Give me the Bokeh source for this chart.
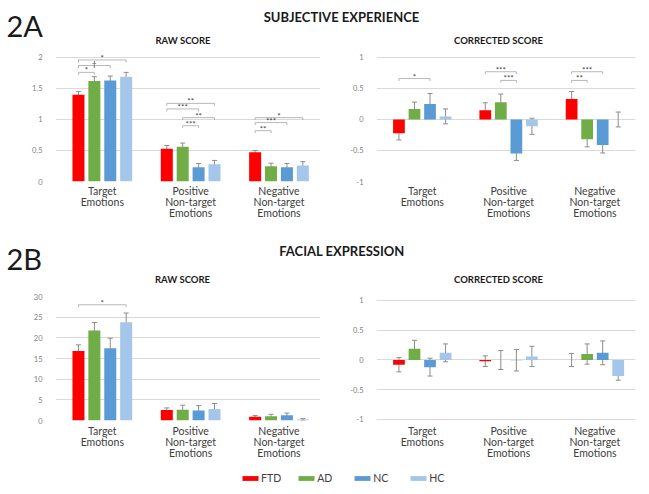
from bokeh.plotting import figure
from bokeh.models import (Range1d, FixedTicker, NumeralTickFormatter, Whisker, TeeHead,
                          ColumnDataSource, Legend, LegendItem)
from bokeh.layouts import column, row
from bokeh.embed import file_html
from bokeh.resources import INLINE
from bokeh.core.properties import value

FONT = "Lato"

# ---------------- data ----------------
groups = ["FTD", "AD", "NC", "HC"]
colors = ["#FF0000", "#70AD47", "#5B9BD5", "#A4C6EA"]
categories = ["Target\nEmotions", "Positive\nNon-target\nEmotions", "Negative\nNon-target\nEmotions"]

# 2A Subjective experience - raw score
subj_raw_mean = {"FTD": [1.40, 0.53, 0.47], "AD": [1.62, 0.56, 0.245],
                 "NC": [1.63, 0.23, 0.23], "HC": [1.69, 0.28, 0.26]}
subj_raw_err = {"FTD": [0.05, 0.05, 0.03], "AD": [0.07, 0.06, 0.05],
                "NC": [0.07, 0.06, 0.06], "HC": [0.07, 0.06, 0.06]}
subj_raw_sig = [(0, "FTD", "HC", 1.96, "*"), (0, "FTD", "NC", 1.87, "\u2020"), (0, "FTD", "AD", 1.76, "*"),
                (1, "FTD", "HC", 1.26, "**"), (1, "FTD", "NC", 1.17, "***"),
                (1, "AD", "HC", 1.03, "**"), (1, "AD", "NC", 0.90, "***"),
                (2, "FTD", "HC", 1.03, "*"), (2, "FTD", "NC", 0.95, "***"), (2, "FTD", "AD", 0.82, "**")]

# 2A Subjective experience - corrected score
subj_corr_mean = {"FTD": [-0.22, 0.15, 0.33], "AD": [0.17, 0.28, -0.32],
                  "NC": [0.25, -0.55, -0.41], "HC": [0.05, -0.11, 0.0]}
subj_corr_err = {"FTD": [0.11, 0.12, 0.12], "AD": [0.11, 0.13, 0.12],
                 "NC": [0.17, 0.11, 0.13], "HC": [0.12, 0.13, 0.12]}
subj_corr_sig = [(0, "FTD", "NC", 0.66, "*"), (1, "FTD", "NC", 0.77, "***"), (1, "AD", "NC", 0.63, "***"),
                 (2, "FTD", "NC", 0.77, "***"), (2, "FTD", "AD", 0.63, "**")]

# 2B Facial expression - raw score
face_raw_mean = {"FTD": [16.8, 2.55, 0.9], "AD": [21.8, 2.6, 1.0],
                 "NC": [17.5, 2.4, 1.3], "HC": [23.8, 2.8, 0.25]}
face_raw_err = {"FTD": [1.5, 0.5, 0.3], "AD": [1.9, 1.1, 0.5],
                "NC": [2.4, 1.2, 0.5], "HC": [2.2, 1.3, 0.2]}
face_raw_sig = [(0, "FTD", "HC", 28.0, "*")]

# 2B Facial expression - corrected score
face_corr_mean = {"FTD": [-0.08, -0.02, 0.0], "AD": [0.19, 0.0, 0.10],
                  "NC": [-0.12, -0.005, 0.12], "HC": [0.12, 0.06, -0.27]}
face_corr_err = {"FTD": [0.12, 0.09, 0.11], "AD": [0.14, 0.16, 0.17],
                 "NC": [0.15, 0.18, 0.20], "HC": [0.15, 0.17, 0.07]}

raw_a_ticks = [0, 0.5, 1, 1.5, 2]
corr_ticks = [-1, -0.5, 0, 0.5, 1]
raw_b_ticks = [0, 5, 10, 15, 20, 25, 30]

# ---------------- style ----------------
STEP = 0.18
BAR_W = 0.136
ERR_C = "#8c8c8c"
GRID_C = "#d9d9d9"
W = 649


def xpos(i, g):
    return i + 0.5 + (groups.index(g) - 1.5) * STEP


def panel(means, errs, sigs, yr, yticks, width, height, bl, br, bt, bb, standoff):
    p = figure(width=width, height=height, x_range=Range1d(-0.03, 2.97), y_range=Range1d(*yr),
               title=None, output_backend="svg", toolbar_location=None,
               min_border_left=bl, min_border_right=br, min_border_top=bt, min_border_bottom=bb)
    p.outline_line_color = None
    p.background_fill_color = None
    p.border_fill_color = None
    p.xgrid.visible = False
    p.ygrid.ticker = FixedTicker(ticks=yticks)
    p.ygrid.grid_line_color = GRID_C
    p.yaxis.ticker = FixedTicker(ticks=yticks)
    p.yaxis.formatter = NumeralTickFormatter(format="0.[0]")
    p.yaxis.major_label_text_font_size = "7.5px"
    p.yaxis.major_label_text_color = "#7f7f7f"
    p.yaxis.major_label_standoff = 7
    p.xaxis.ticker = FixedTicker(ticks=[i + 0.5 for i in range(len(categories))])
    p.xaxis.major_label_overrides = {i + 0.5: c for i, c in enumerate(categories)}
    p.xaxis.major_label_text_font_size = "10.5px"
    p.xaxis.major_label_text_color = "#404040"
    p.xaxis.major_label_text_line_height = 0.95
    p.xaxis.major_label_standoff = standoff
    for ax in (p.xaxis, p.yaxis):
        ax.axis_line_color = None
        ax.major_tick_line_color = None
        ax.minor_tick_line_color = None
        ax.major_label_text_font = FONT
    for g, c in zip(groups, colors):
        xs = [xpos(i, g) for i in range(len(categories))]
        m = means[g]
        e = errs[g]
        p.vbar(x=xs, top=m, bottom=0, width=BAR_W, fill_color=c, line_color=None)
        src = ColumnDataSource(dict(x=xs, lo=[a - b for a, b in zip(m, e)], hi=[a + b for a, b in zip(m, e)]))
        p.add_layout(Whisker(source=src, base="x", lower="lo", upper="hi", line_color=ERR_C, line_width=1,
                             upper_head=TeeHead(size=5, line_color=ERR_C, line_width=1),
                             lower_head=TeeHead(size=5, line_color=ERR_C, line_width=1)))
    if sigs:
        d = 0.02 * (yticks[-1] - yticks[0])
        bxs, bys, tx, ty, tt = [], [], [], [], []
        for (i, g1, g2, y, lab) in sigs:
            x1, x2 = xpos(i, g1), xpos(i, g2)
            bxs.append([x1, x1, x2, x2])
            bys.append([y - d, y, y, y - d])
            tx.append((x1 + x2) / 2)
            ty.append(y)
            tt.append(lab)
        p.multi_line(xs=bxs, ys=bys, line_color="#a6a6a6", line_width=0.8)
        p.text(x=tx, y=ty, text=tt, text_font=value(FONT), text_font_size="8px", text_color="#404040",
               text_align="center", text_baseline="middle", y_offset=-2)
    return p


def header(h, items):
    p = figure(width=W, height=h, x_range=Range1d(0, W), y_range=Range1d(h, 0), title=None,
               output_backend="svg", toolbar_location=None, x_axis_location=None, y_axis_location=None,
               min_border=0)
    p.outline_line_color = None
    p.xgrid.visible = False
    p.ygrid.visible = False
    for (x, y, t, size, style, align) in items:
        p.text(x=[x], y=[y], text=[t], text_font=value(FONT), text_font_size=size, text_font_style=style,
               text_color="#1a1a1a", text_align=align, text_baseline="middle")
    return p


hdrA = header(46, [(6, 25, "2A", "29px", "normal", "left"),
                   (341, 16, "SUBJECTIVE EXPERIENCE", "13px", "bold", "center"),
                   (182.5, 40, "RAW SCORE", "9.5px", "bold", "center"),
                   (498, 40, "CORRECTED SCORE", "9.5px", "bold", "center")])

# frames of a row are aligned by the layout: both share top/bottom borders
rawA = panel(subj_raw_mean, subj_raw_err, subj_raw_sig, (0, 2.048), raw_a_ticks, 338, 176, 55, 18, 8, 40, -3)
corA = panel(subj_corr_mean, subj_corr_err, subj_corr_sig, (-1, 1.048), corr_ticks, 311, 176, 38, 14, 8, 40, -3)

hdrB = header(66, [(6, 36, "2B", "29px", "normal", "left"),
                   (341.5, 28, "FACIAL EXPRESSION", "13px", "bold", "center"),
                   (182, 57, "RAW SCORE", "9.5px", "bold", "center"),
                   (498, 57, "CORRECTED SCORE", "9.5px", "bold", "center")])

rawB = panel(face_raw_mean, face_raw_err, face_raw_sig, (0, 30), raw_b_ticks, 338, 174, 55, 18, 8, 41, -2)
corB = panel(face_corr_mean, face_corr_err, [], (-1.017, 1.067), corr_ticks, 311, 174, 38, 14, 8, 41, -2)

# legend
leg = figure(width=W, height=32, x_range=Range1d(0, 1), y_range=Range1d(0, 1), title=None,
             output_backend="svg", toolbar_location=None, x_axis_location=None, y_axis_location=None,
             min_border=0)
leg.outline_line_color = None
leg.xgrid.visible = False
leg.ygrid.visible = False
items = []
for g, c in zip(groups, colors):
    r = leg.vbar(x=[0.5], top=[0], bottom=[0], width=0.0, fill_color=c, line_color=None)
    items.append(LegendItem(label=g, renderers=[r], index=0))
legend = Legend(items=items, orientation="horizontal", location=(240, 10), glyph_width=20, glyph_height=6,
                label_height=12, label_standoff=1, spacing=15, padding=0, margin=0,
                border_line_color=None, background_fill_alpha=0,
                label_text_font=FONT, label_text_font_size="10.5px", label_text_color="#404040")
leg.add_layout(legend, "center")

layout = column(hdrA, row(rawA, corA), hdrB, row(rawB, corB), leg)

open("out.html", "w").write(file_html(layout, INLINE))
